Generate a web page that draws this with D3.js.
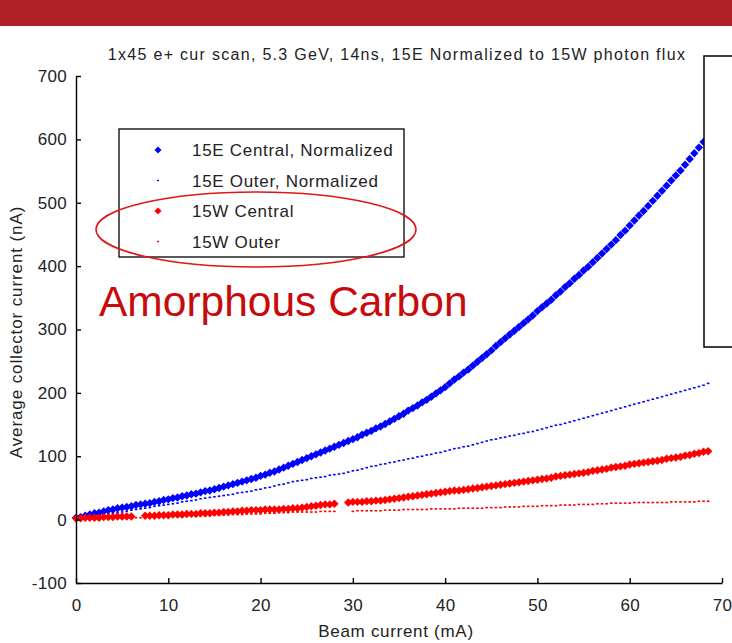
<!DOCTYPE html>
<html>
<head>
<meta charset="utf-8">
<script src="https://d3js.org/d3.v7.min.js"></script>
<style>
  body { margin: 0; background: #ffffff; }
  text { font-family: "Liberation Sans", Arial, sans-serif; }
</style>
</head>
<body>
<div id="my_dataviz"></div>
<script>

// beam current (mA), one reading every half mA
var beamCurrent = [
  0,0.5,1,1.5,2,2.5,3,3.5,4,4.5,5,5.5,6,6.5,7,7.5,8,8.5,9,9.5,
  10,10.5,11,11.5,12,12.5,13,13.5,14,14.5,15,15.5,16,16.5,17,17.5,18,18.5,19,19.5,
  20,20.5,21,21.5,22,22.5,23,23.5,24,24.5,25,25.5,26,26.5,27,27.5,28,28.5,29,29.5,
  30,30.5,31,31.5,32,32.5,33,33.5,34,34.5,35,35.5,36,36.5,37,37.5,38,38.5,39,39.5,
  40,40.5,41,41.5,42,42.5,43,43.5,44,44.5,45,45.5,46,46.5,47,47.5,48,48.5,49,49.5,
  50,50.5,51,51.5,52,52.5,53,53.5,54,54.5,55,55.5,56,56.5,57,57.5,58,58.5,59,59.5,
  60,60.5,61,61.5,62,62.5,63,63.5,64,64.5,65,65.5,66,66.5,67,67.5,68,68.5
];

// average collector current (nA)
var east15Central = [
  3,4,6,8,10,11,13,15,16,18,19,20,21,23,24,25,26,28,29,31,
  32,34,35,37,38,40,41,43,45,46,48,50,52,54,56,58,60,62,64,66,
  69,71,74,76,79,82,85,88,91,94,97,100,103,106,109,112,115,118,121,124,
  127,130,134,137,140,144,147,151,155,159,163,167,172,176,180,185,189,194,199,204,
  209,215,221,226,232,237,243,249,255,261,267,274,280,286,292,298,304,310,316,322,
  329,335,341,347,354,360,367,373,380,386,393,399,406,413,420,427,434,441,449,456,
  464,472,480,487,495,503,511,519,527,535,543,551,560,569,578,587,596,606
];
var east15Outer = [
  1,2,3,4,6,7,8,9,10,11,12,13,15,16,17,18,19,21,22,23,
  24,25,26,28,29,30,31,33,34,35,36,37,38,39,40,42,43,44,45,47,
  48,50,51,53,55,56,58,60,61,62,63,65,66,67,68,70,71,72,73,75,
  77,78,80,82,84,85,87,88,90,91,93,94,96,97,99,100,102,103,105,106,
  108,110,112,113,115,116,118,120,122,124,126,127,129,130,132,133,135,136,138,139,
  141,143,145,147,149,150,152,154,156,158,160,162,164,166,168,170,172,174,176,178,
  180,182,184,186,188,190,192,194,196,198,200,202,204,206,208,210,212,215
];
var west15Central = [
  2,2,3,3,3,3,4,4,4,5,5,5,5,null,null,6,6,6,7,7,
  7,8,8,8,9,9,9,10,10,10,11,11,12,12,13,13,14,14,15,15,
  15,16,16,16,16,17,17,18,18,19,20,21,22,23,24,24,25,null,null,27,
  28,28,28,29,29,30,30,31,32,33,34,35,36,37,38,39,40,41,42,43,
  44,45,46,46,47,48,49,50,51,52,53,54,55,56,57,58,59,60,61,62,
  63,64,65,66,68,69,70,71,72,73,74,75,77,78,79,80,82,83,84,85,
  87,88,89,90,91,92,93,94,96,97,98,99,101,102,104,105,107,108
];
var west15Outer = [
  0,1,1,1,1,2,2,2,2,2,2,3,3,3,3,3,3,4,4,4,
  4,5,5,5,5,6,6,6,6,7,7,7,7,8,8,8,8,9,9,9,
  9,10,10,10,11,11,11,12,12,12,12,12,12,13,13,13,13,null,null,null,
  13,14,14,14,14,14,14,15,15,15,15,16,16,16,16,16,16,17,17,17,
  17,17,17,18,18,18,18,18,18,19,19,19,19,20,20,20,20,21,21,21,
  21,22,22,22,22,23,23,23,23,24,24,24,24,25,25,25,26,26,26,26,
  26,27,27,27,27,27,27,27,27,28,28,28,28,28,28,29,29,29
];

var seriesNames = ["15E Central, Normalized", "15E Outer, Normalized", "15W Central", "15W Outer"];
var xTicks = [0, 10, 20, 30, 40, 50, 60, 70];
var yTicks = [-100, 0, 100, 200, 300, 400, 500, 600, 700];

var series = [
  {name: seriesNames[0], values: east15Central, color: "#0000ff", big: true},
  {name: seriesNames[1], values: east15Outer,   color: "#0000ff", big: false},
  {name: seriesNames[2], values: west15Central, color: "#ff0000", big: true},
  {name: seriesNames[3], values: west15Outer,   color: "#ff0000", big: false}
];

var W = 732, H = 643;

var svg = d3.select("#my_dataviz")
  .append("svg")
    .attr("width", W)
    .attr("height", H);

// red banner at the top of the slide
svg.append("rect")
  .attr("x", 0).attr("y", 0)
  .attr("width", W).attr("height", 26)
  .attr("fill", "#b01f25");

var x = d3.scaleLinear().domain([0, 70]).range([76, 722]);
var y = d3.scaleLinear().domain([-100, 700]).range([583, 76]);

// title
svg.append("text")
  .attr("x", 397).attr("y", 60)
  .attr("text-anchor", "middle")
  .style("font-size", "16px")
  .style("letter-spacing", "1.3px")
  .attr("fill", "#222")
  .text("1x45 e+ cur scan, 5.3 GeV, 14ns, 15E Normalized to 15W photon flux");

// diamond marker
var diamond = "M0,-4.2L4.2,0L0,4.2L-4.2,0Z";

// points
series.forEach(function(s) {
  var pts = beamCurrent.map(function(b, i) { return {x: b, y: s.values[i]}; })
    .filter(function(d) { return d.y !== null; });
  var g = svg.append("g");
  if (s.big) {
    g.selectAll("path")
      .data(pts)
      .enter()
      .append("path")
        .attr("d", diamond)
        .attr("transform", function(d) { return "translate(" + x(d.x) + "," + y(d.y) + ")"; })
        .attr("fill", s.color);
  } else {
    g.selectAll("rect")
      .data(pts)
      .enter()
      .append("rect")
        .attr("x", function(d) { return x(d.x) - 1.3; })
        .attr("y", function(d) { return y(d.y) - 0.8; })
        .attr("width", 2.6)
        .attr("height", 1.6)
        .attr("fill", s.color);
  }
});

// axes (ticks pointing inward, no box)
var xAxis = svg.append("g")
  .attr("transform", "translate(0,583)")
  .call(d3.axisBottom(x).tickValues(xTicks).tickSize(-5).tickPadding(16).tickSizeOuter(0));
var yAxis = svg.append("g")
  .attr("transform", "translate(76,0)")
  .call(d3.axisLeft(y).tickValues(yTicks).tickFormat(function(d) { return String(d); })
        .tickSize(-5).tickPadding(9).tickSizeOuter(0));

[xAxis, yAxis].forEach(function(a) {
  a.selectAll("path").attr("stroke", "#000").attr("stroke-width", 1.4);
  a.selectAll("line").attr("stroke", "#000").attr("stroke-width", 1.4);
  a.selectAll("text")
    .style("font-family", "Liberation Sans, Arial, sans-serif")
    .style("font-size", "17px")
    .style("letter-spacing", "0.3px")
    .attr("fill", "#222");
});

// axis labels
svg.append("text")
  .attr("x", 396).attr("y", 637)
  .attr("text-anchor", "middle")
  .style("font-size", "17px")
  .style("letter-spacing", "0.7px")
  .attr("fill", "#222")
  .text("Beam current (mA)");

svg.append("text")
  .attr("transform", "translate(22,332) rotate(-90)")
  .attr("text-anchor", "middle")
  .style("font-size", "17px")
  .style("letter-spacing", "0.9px")
  .attr("fill", "#222")
  .text("Average collector current (nA)");

// legend
var legend = svg.append("g");
legend.append("rect")
  .attr("x", 119).attr("y", 129)
  .attr("width", 285).attr("height", 128)
  .attr("fill", "#fff")
  .attr("stroke", "#000")
  .attr("stroke-width", 1.3);

series.forEach(function(s, i) {
  var ly = 150 + i * 30.5;
  if (s.big) {
    legend.append("path")
      .attr("d", "M0,-3.5L3.5,0L0,3.5L-3.5,0Z")
      .attr("transform", "translate(158," + ly + ")")
      .attr("fill", s.color);
  } else {
    legend.append("rect")
      .attr("x", 157).attr("y", ly - 0.7)
      .attr("width", 2).attr("height", 1.4)
      .attr("fill", s.color);
  }
  legend.append("text")
    .attr("x", 192).attr("y", ly + 6)
    .style("font-size", "17px")
    .style("letter-spacing", "0.7px")
    .attr("fill", "#222")
    .text(s.name);
});

// annotation on top of the chart
svg.append("ellipse")
  .attr("cx", 256).attr("cy", 229.5)
  .attr("rx", 160).attr("ry", 37.5)
  .attr("fill", "none")
  .attr("stroke", "#e01515")
  .attr("stroke-width", 1.6);

svg.append("text")
  .attr("x", 99).attr("y", 316)
  .style("font-size", "42.5px")
  .attr("fill", "#c90a0a")
  .text("Amorphous Carbon");

// white box partly covering the right edge
svg.append("rect")
  .attr("x", 704).attr("y", 56)
  .attr("width", 40).attr("height", 291)
  .attr("fill", "#fff")
  .attr("stroke", "#000")
  .attr("stroke-width", 1.5);

</script>
</body>
</html>
